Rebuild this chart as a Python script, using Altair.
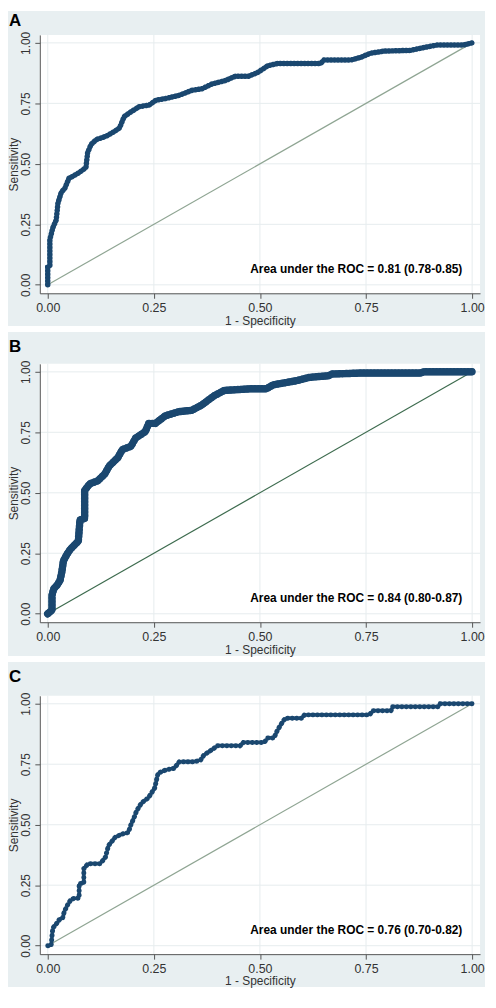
import altair as alt
import pandas as pd

# ---------------- data ----------------
TICKS = [0.0, 0.25, 0.5, 0.75, 1.0]

a_fpr = [0.0, 0.0, 0.005, 0.005, 0.012, 0.02, 0.024, 0.032, 0.04, 0.05, 0.075, 0.09, 0.094,
         0.102, 0.114, 0.137, 0.157, 0.169, 0.18, 0.196, 0.215, 0.239, 0.255, 0.278, 0.309,
         0.34, 0.363, 0.387, 0.418, 0.442, 0.473, 0.495, 0.518, 0.542, 0.643, 0.651, 0.714,
         0.737, 0.76, 0.792, 0.854, 0.893, 0.917, 0.979, 1.0]
a_tpr = [0.0, 0.073, 0.078, 0.187, 0.236, 0.268, 0.337, 0.383, 0.398, 0.44, 0.465, 0.485, 0.546,
         0.58, 0.6, 0.614, 0.634, 0.648, 0.695, 0.715, 0.736, 0.743, 0.763, 0.77, 0.783,
         0.804, 0.81, 0.83, 0.844, 0.862, 0.862, 0.878, 0.905, 0.915, 0.915, 0.929, 0.929,
         0.94, 0.957, 0.966, 0.969, 0.983, 0.991, 0.991, 1.0]

b_fpr = [0.0, 0.01, 0.01, 0.014, 0.022, 0.029, 0.033, 0.037, 0.045, 0.053, 0.064, 0.072, 0.076,
         0.087, 0.087, 0.099, 0.118, 0.134, 0.145, 0.165, 0.176, 0.196, 0.207, 0.23, 0.238,
         0.254, 0.277, 0.308, 0.339, 0.362, 0.393, 0.416, 0.478, 0.515, 0.531, 0.585, 0.616,
         0.662, 0.67, 0.739, 0.879, 0.886, 1.0]
b_tpr = [0.0, 0.015, 0.076, 0.103, 0.118, 0.138, 0.171, 0.219, 0.245, 0.266, 0.286, 0.3, 0.388,
         0.394, 0.51, 0.537, 0.55, 0.577, 0.611, 0.645, 0.679, 0.692, 0.726, 0.753, 0.787,
         0.787, 0.818, 0.835, 0.841, 0.862, 0.902, 0.923, 0.93, 0.93, 0.946, 0.963, 0.977,
         0.984, 0.991, 0.995, 0.995, 1.0, 1.0]

c_fpr = [0.0, 0.008, 0.01, 0.012, 0.019, 0.027, 0.035, 0.039, 0.047, 0.054, 0.062, 0.074, 0.074,
         0.085, 0.085, 0.095, 0.124, 0.136, 0.143, 0.159, 0.174, 0.19, 0.196, 0.205, 0.209,
         0.221, 0.237, 0.252, 0.26, 0.279, 0.298, 0.31, 0.345, 0.36, 0.368, 0.391, 0.399,
         0.453, 0.461, 0.51, 0.518, 0.533, 0.541, 0.553, 0.56, 0.599, 0.605, 0.758, 0.766,
         0.809, 0.812, 0.921, 0.925, 1.0]
c_tpr = [0.0, 0.0, 0.04, 0.073, 0.087, 0.107, 0.114, 0.141, 0.169, 0.189, 0.196, 0.196, 0.257,
         0.257, 0.318, 0.339, 0.339, 0.366, 0.413, 0.448, 0.461, 0.468, 0.5, 0.536, 0.556,
         0.59, 0.611, 0.652, 0.713, 0.727, 0.733, 0.76, 0.76, 0.767, 0.788, 0.815, 0.826,
         0.826, 0.84, 0.84, 0.858, 0.858, 0.89, 0.924, 0.94, 0.94, 0.954, 0.954, 0.971,
         0.971, 0.988, 0.988, 1.0, 1.0]

labels = ["A", "B", "C"]
auc_texts = ["Area under the ROC = 0.81 (0.78-0.85)",
             "Area under the ROC = 0.84 (0.80-0.87)",
             "Area under the ROC = 0.76 (0.70-0.82)"]

# ---------------- styling ----------------
W, H = 443, 260
XD = [-0.0187, 1.0187]
YD = [-0.035, 1.033]
BG = "#E8EFF1"
GRID = "#E6ECEE"
NAVY = "#1A476F"
FONT = "Liberation Sans"


def panel(letter, fpr, tpr, auc, line_w, bead_w, bead_gap, diag_color,
          top, bottom, letter_y):
    df = pd.DataFrame({"fpr": fpr, "tpr": tpr, "i": list(range(len(fpr)))})
    xs = alt.Scale(domain=XD, nice=False, zero=False)
    ys = alt.Scale(domain=YD, nice=False, zero=False)
    one = alt.Data(values=[{"a": 1}])

    xaxis = alt.Axis(values=TICKS, format=".2f", grid=False, zindex=1,
                     labelFont=FONT, labelFontSize=12.5, labelColor="#333333",
                     labelPadding=3, tickSize=5, tickColor="#555555",
                     domainColor="#555555", title="1 - Specificity",
                     titleFont=FONT, titleFontSize=12, titleFontWeight="normal",
                     titleColor="#333333", titleY=27, titleBaseline="middle")
    yaxis = alt.Axis(values=TICKS, format=".2f", grid=False, zindex=1,
                     labelFont=FONT, labelFontSize=12, labelColor="#333333",
                     labelAngle=270, labelAlign="center", labelBaseline="bottom",
                     labelPadding=2, tickSize=5, tickColor="#555555",
                     domainColor="#555555", title="Sensitivity",
                     titleFont=FONT, titleFontSize=12, titleFontWeight="normal",
                     titleColor="#333333", titleAngle=270, titleX=-26, titleY=H / 2,
                     titleAlign="center", titleBaseline="middle")

    def X(f):
        return alt.X(f, scale=xs, axis=xaxis, title="1 - Specificity")

    def Y(f):
        return alt.Y(f, scale=ys, axis=yaxis, title="Sensitivity")

    bg = alt.Chart(one).mark_rect(color=BG).encode(
        x=alt.value(-32), x2=alt.value(W + 5), y=alt.value(-top), y2=alt.value(H + bottom))
    plotbg = alt.Chart(one).mark_rect(color="white").encode(
        x=alt.value(0), x2=alt.value(W), y=alt.value(0), y2=alt.value(H))
    tdf = pd.DataFrame({"t": TICKS})
    gx = alt.Chart(tdf).mark_rule(color=GRID, strokeWidth=1).encode(
        x=X("t:Q"), y=alt.value(0), y2=alt.value(H))
    gy = alt.Chart(tdf).mark_rule(color=GRID, strokeWidth=1).encode(
        y=Y("t:Q"), x=alt.value(0), x2=alt.value(W))
    diag = alt.Chart(pd.DataFrame({"x": [0, 1], "y": [0, 1]})).mark_line(
        color=diag_color, strokeWidth=1.2).encode(x=X("x:Q"), y=Y("y:Q"))

    base = alt.Chart(df).encode(x=X("fpr:Q"), y=Y("tpr:Q"), order=alt.Order("i:Q"))
    curve = base.mark_line(color=NAVY, strokeWidth=line_w, strokeJoin="round",
                           strokeCap="round")
    beads = base.mark_line(color=NAVY, strokeWidth=bead_w, strokeCap="round",
                           strokeDash=[0.5, bead_gap])

    txt = alt.Chart(pd.DataFrame({"x": [0.977], "y": [0.065], "t": [auc]})).mark_text(
        align="right", baseline="middle", font=FONT, fontSize=12, fontWeight="bold",
        color="black").encode(x=X("x:Q"), y=Y("y:Q"), text="t:N")
    let = alt.Chart(pd.DataFrame({"t": [letter]})).mark_text(
        align="left", baseline="alphabetic", font=FONT, fontSize=17, fontWeight="bold",
        color="black").encode(x=alt.value(-31), y=alt.value(-letter_y), text="t:N")

    return alt.layer(bg, plotbg, gx, gy, diag, curve, beads, txt, let).properties(
        width=W, height=H)


pa = panel(labels[0], a_fpr, a_tpr, auc_texts[0], 4, 5.5, 3.0, "#8FA593", 24, 33, 9)
pb = panel(labels[1], b_fpr, b_tpr, auc_texts[1], 7, 7.5, 3.0, "#3D6B4E", 32, 34, 12)
pc = panel(labels[2], c_fpr, c_tpr, auc_texts[2], 2, 5, 4.0, "#8FA593", 34, 33, 14)

chart = alt.vconcat(pa, pb, pc, spacing=6).properties(
    padding={"left": 0, "top": 0, "right": 0, "bottom": 0}
).configure(background="white").configure_view(strokeWidth=0)

chart.save("out.html", embed_options={"renderer": "svg", "actions": False})
